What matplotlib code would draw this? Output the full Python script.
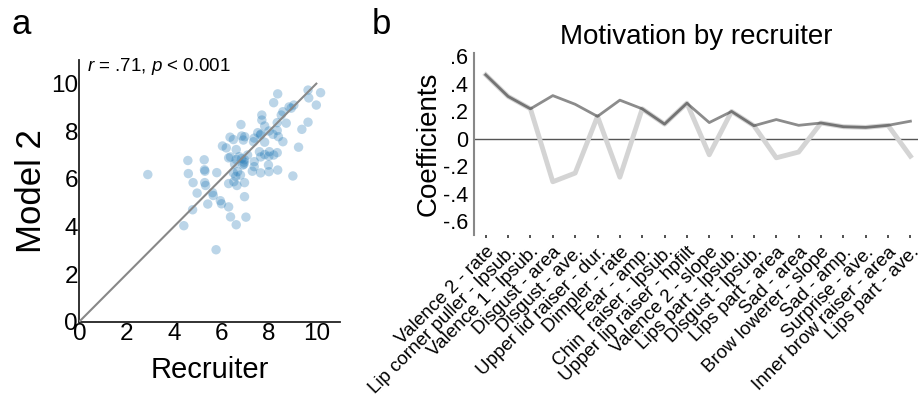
import numpy as np
import matplotlib
matplotlib.use("Agg")
import matplotlib.pyplot as plt

plt.rcParams['font.family'] = ['Liberation Sans', 'DejaVu Sans']
plt.rcParams['mathtext.fontset'] = 'custom'
plt.rcParams['mathtext.rm'] = 'Liberation Sans'
plt.rcParams['mathtext.it'] = 'Liberation Sans:italic'

# Panel a - recruiter vs model 2 scores
recruiter = [2.89, 4.41, 4.78, 4.58, 4.60, 4.80, 4.97, 5.27, 5.28, 5.30,
             5.29, 5.33, 5.42, 5.62, 5.65, 5.77, 5.80, 5.95, 6.00, 6.04,
             6.20, 6.30, 6.30, 6.36, 6.30, 6.38, 6.50, 6.38, 6.50, 6.52,
             6.62, 6.62, 6.55, 6.60, 6.65, 6.68, 6.75, 6.82, 6.85, 6.80,
             6.97, 6.95, 6.97, 6.97, 7.03, 6.90, 6.92, 6.98, 7.10, 7.30,
             7.35, 7.38, 7.38, 7.38, 7.53, 7.60, 7.64, 7.66, 7.65, 7.65,
             7.70, 7.70, 7.82, 7.82, 7.82, 7.98, 8.00, 8.00, 8.02, 8.00,
             8.20, 8.17, 8.35, 8.37, 8.35, 8.40, 8.35, 8.20, 8.37, 8.52,
             8.59, 8.59, 8.73, 8.94, 9.05, 9.01, 9.25, 9.39, 9.65, 9.68,
             9.65, 10.00, 10.18, 8.85, 6.62, 6.85, 6.95]
model2 = [6.18, 4.03, 4.70, 6.77, 6.22, 5.84, 5.40, 6.80, 6.38, 6.32,
          5.84, 5.72, 4.94, 5.42, 5.30, 3.02, 6.26, 5.08, 4.95, 7.38,
          7.30, 4.82, 6.88, 7.75, 5.80, 4.40, 7.65, 6.92, 6.25, 5.88,
          4.07, 7.23, 6.62, 6.10, 5.72, 6.30, 6.93, 8.28, 7.80, 6.16,
          6.80, 6.62, 5.84, 5.25, 4.39, 6.58, 7.63, 7.77, 7.00, 6.32,
          7.56, 7.71, 6.72, 6.51, 7.94, 7.14, 7.84, 7.88, 6.92, 6.25,
          8.68, 8.47, 8.22, 7.54, 7.02, 6.58, 6.95, 6.30, 7.14, 8.01,
          9.20, 7.87, 8.03, 9.57, 8.36, 7.77, 7.10, 7.00, 6.37, 8.68,
          8.82, 7.56, 8.34, 8.97, 9.10, 6.12, 7.33, 8.08, 9.73, 9.40,
          8.38, 9.10, 9.62, 9.02, 6.81, 6.85, 6.70]
identity = [0, 10]
ticks_a = [0, 2, 4, 6, 8, 10]

# Panel b - coefficients
features = ['Valence 2 - rate', 'Lip corner puller - lpsub.', 'Valence 1 - lpsub.',
            'Disgust - area', 'Disgust - ave.', 'Upper lid raiser - dur.',
            'Dimpler - rate', 'Fear - amp.', 'Chin  raiser - lpsub.',
            'Upper lip raiser - hpfilt', 'Valence 2 - slope', 'Lips part - lpsub.',
            'Disgust - lpsub.', 'Lips part - area', 'Sad - area',
            'Brow lowerer - slope', 'Sad - amp.', 'Surprise - ave.',
            'Inner brow raiser - area', 'Lips part - ave.']
coefs = [0.464, 0.307, 0.217, -0.313, -0.250, 0.162, -0.280, 0.217, 0.106, 0.258,
         -0.117, 0.198, 0.094, -0.139, -0.097, 0.114, 0.087, 0.082, 0.097, -0.127]
ticks_b = [0.6, 0.4, 0.2, 0, -0.2, -0.4, -0.6]
ticklabels_b = ['.6', '.4', '.2', '0', '-.2', '-.4', '-.6']

fig = plt.figure(figsize=(9.18, 3.99), dpi=100)

# --- panel a
ax1 = fig.add_axes([0.0864, 0.194, 0.284, 0.656])
ax1.scatter(recruiter, model2, s=46, color='#1f77b4', alpha=0.3, edgecolors='none', zorder=2)
ax1.plot(identity, identity, color='#888888', lw=1.5, zorder=3)
ax1.set_xlim(0, 11)
ax1.set_ylim(0, 11)
ax1.set_xticks(ticks_a)
ax1.set_yticks(ticks_a)
ax1.tick_params(length=0, labelsize=17.5, pad=1)
for s in ['top', 'right']:
    ax1.spines[s].set_visible(False)
for s in ['left', 'bottom']:
    ax1.spines[s].set_linewidth(1.3)
    ax1.spines[s].set_color('#222222')
ax1.set_xlabel('Recruiter', fontsize=21, labelpad=8)
ax1.set_ylabel('Model 2', fontsize=25, labelpad=2)
ax1.text(0.03, 0.975, '$r$ = .71, $p$ < 0.001', transform=ax1.transAxes,
         fontsize=13.5, ha='left', va='center')
fig.text(0.012, 0.915, 'a', fontsize=25)

# --- panel b
ax2 = fig.add_axes([0.516, 0.411, 0.484, 0.457])
x = np.arange(1, len(features) + 1)
ax2.axhline(0, color='#555555', lw=1, zorder=1)
ax2.plot(x, coefs, color='#d4d4d4', lw=3.5, zorder=2)
ax2.plot(x, np.abs(coefs), color='black', alpha=0.45, lw=2, zorder=3)
ax2.set_xlim(0.46, 20.34)
ax2.set_ylim(-0.70, 0.625)
ax2.set_yticks(ticks_b)
ax2.set_yticklabels(ticklabels_b)
ax2.set_xticks(x)
ax2.set_xticklabels(features, rotation=45, ha='right', rotation_mode='anchor')
ax2.tick_params(axis='y', length=0, labelsize=15.5, pad=4)
ax2.tick_params(axis='x', length=2, width=1.2, color='#333333', labelsize=13.5, pad=4)
for s in ['top', 'right', 'bottom']:
    ax2.spines[s].set_visible(False)
ax2.spines['left'].set_color('#888888')
ax2.spines['left'].set_linewidth(1.5)
ax2.set_ylabel('Coefficients', fontsize=20, labelpad=1)
ax2.set_title('Motivation by recruiter', fontsize=20, pad=6)
fig.text(0.405, 0.915, 'b', fontsize=25)

fig.savefig('out.png', dpi=100)
